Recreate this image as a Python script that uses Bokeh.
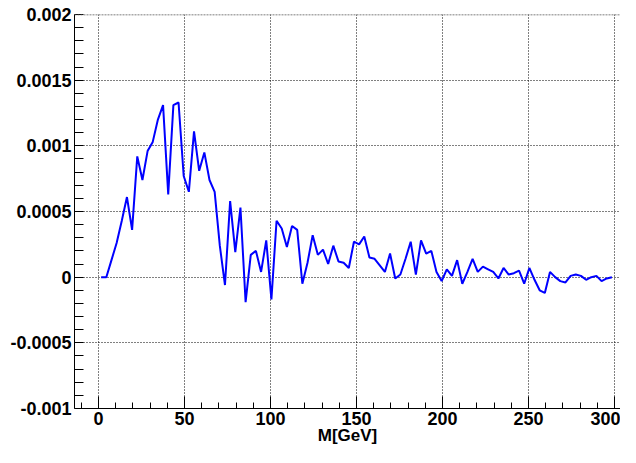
from bokeh.plotting import figure
from bokeh.models import FixedTicker, Range1d, Span
from bokeh.embed import file_html
from bokeh.resources import INLINE

# bin centres (GeV) of the mass histogram
mass = [1.5, 4.5, 7.5, 10.5, 13.5, 16.5, 19.5, 22.5, 25.5, 28.5,
        31.5, 34.5, 37.5, 40.5, 43.5, 46.5, 49.5, 52.5, 55.5, 58.5,
        61.5, 64.5, 67.5, 70.5, 73.5, 76.5, 79.5, 82.5, 85.5, 88.5,
        91.5, 94.5, 97.5, 100.5, 103.5, 106.5, 109.5, 112.5, 115.5, 118.5,
        121.5, 124.5, 127.5, 130.5, 133.5, 136.5, 139.5, 142.5, 145.5, 148.5,
        151.5, 154.5, 157.5, 160.5, 163.5, 166.5, 169.5, 172.5, 175.5, 178.5,
        181.5, 184.5, 187.5, 190.5, 193.5, 196.5, 199.5, 202.5, 205.5, 208.5,
        211.5, 214.5, 217.5, 220.5, 223.5, 226.5, 229.5, 232.5, 235.5, 238.5,
        241.5, 244.5, 247.5, 250.5, 253.5, 256.5, 259.5, 262.5, 265.5, 268.5,
        271.5, 274.5, 277.5, 280.5, 283.5, 286.5, 289.5, 292.5, 295.5, 298.5]

values = [0.0, 0.0, 0.00013, 0.00026, 0.00043, 0.00061, 0.00036, 0.00092, 0.00074, 0.00096,
          0.00103, 0.00120, 0.00131, 0.00063, 0.00131, 0.00133, 0.00077, 0.00065, 0.00111, 0.00081,
          0.00095, 0.00074, 0.00065, 0.00024, -0.00006, 0.00058, 0.00019, 0.00053, -0.00019, 0.00017,
          0.00020, 0.00004, 0.00028, -0.00017, 0.00043, 0.00037, 0.00023, 0.00039, 0.00036, -0.00005,
          0.00011, 0.00032, 0.00017, 0.00021, 0.00010, 0.00024, 0.00012, 0.00011, 0.00007, 0.00027,
          0.00025, 0.00031, 0.00015, 0.00014, 0.00009, 0.00004, 0.00018, -0.00001, 0.00002, 0.00014,
          0.00027, 0.00002, 0.00028, 0.00018, 0.00020, 0.00004, -0.00003, 0.00006, 0.00001, 0.00013,
          -0.00005, 0.00004, 0.00014, 0.00004, 0.00008, 0.00006, 0.00004, -0.00001, 0.00007, 0.00002,
          0.00003, 0.00005, -0.00005, 0.00007, -0.00002, -0.00010, -0.00012, 0.00004, 0.0, -0.00003,
          -0.00004, 0.00001, 0.00002, 0.00001, -0.00002, 0.0, 0.00001, -0.00003, -0.00001, 0.0]

x_ticks = [0, 50, 100, 150, 200, 250, 300]
x_minor = [-10, 10, 20, 30, 40, 60, 70, 80, 90, 110, 120, 130, 140, 160, 170, 180, 190,
           210, 220, 230, 240, 260, 270, 280, 290]
y_ticks = [-0.001, -0.0005, 0.0, 0.0005, 0.001, 0.0015, 0.002]
y_tick_labels = ["-0.001", "-0.0005", "0", "0.0005", "0.001", "0.0015", "0.002"]
y_minor = [-0.0009, -0.0008, -0.0007, -0.0006, -0.0004, -0.0003, -0.0002, -0.0001,
           0.0001, 0.0002, 0.0003, 0.0004, 0.0006, 0.0007, 0.0008, 0.0009,
           0.0011, 0.0012, 0.0013, 0.0014, 0.0016, 0.0017, 0.0018, 0.0019]
x_title = "M[GeV]"

FONT = "Liberation Sans"
Y_LO, Y_HI = -0.001, 0.002

p = figure(width=620, height=447, output_backend="svg", toolbar_location=None,
           x_range=Range1d(-14, 303.5), y_range=Range1d(Y_LO, Y_HI),
           min_border_left=74, min_border_top=14, min_border_right=0,
           min_border_bottom=0)

p.line(mass, values, line_color="#0000ff", line_width=2)

p.outline_line_color = None
p.background_fill_color = "white"
p.border_fill_color = "white"

for ax in (p.xaxis[0], p.yaxis[0]):
    ax.axis_line_color = "black"
    ax.axis_line_width = 1
    ax.major_tick_line_color = "black"
    ax.minor_tick_line_color = "black"
    ax.major_tick_out = 0
    ax.minor_tick_out = 0
    ax.major_label_text_font = FONT
    ax.major_label_text_font_style = "bold"
    ax.major_label_text_font_size = "18px"
    ax.major_label_text_color = "black"

p.xaxis.ticker = FixedTicker(ticks=x_ticks, minor_ticks=x_minor)
p.xaxis.major_tick_in = 12
p.xaxis.minor_tick_in = 6
p.xaxis.major_label_standoff = 3
p.xaxis.axis_label = x_title
p.xaxis.axis_label_text_font = FONT
p.xaxis.axis_label_text_font_style = "bold"
p.xaxis.axis_label_text_font_size = "17px"
p.xaxis.axis_label_text_color = "black"
p.xaxis.axis_label_standoff = -2

p.yaxis.ticker = FixedTicker(ticks=y_ticks, minor_ticks=y_minor)
p.yaxis.major_label_overrides = {t: s for t, s in zip(y_ticks, y_tick_labels)}
p.yaxis.major_tick_in = 9
p.yaxis.minor_tick_in = 9
p.yaxis.major_label_standoff = 3

for g in (p.xgrid[0], p.ygrid[0]):
    g.grid_line_color = "black"
    g.grid_line_dash = "1 2"
    g.grid_line_width = 1

p.add_layout(Span(location=Y_HI, dimension="width", line_color="#555555",
                  line_width=1.5, line_dash="2 1"))

open("out.html", "w").write(file_html(p, INLINE))
